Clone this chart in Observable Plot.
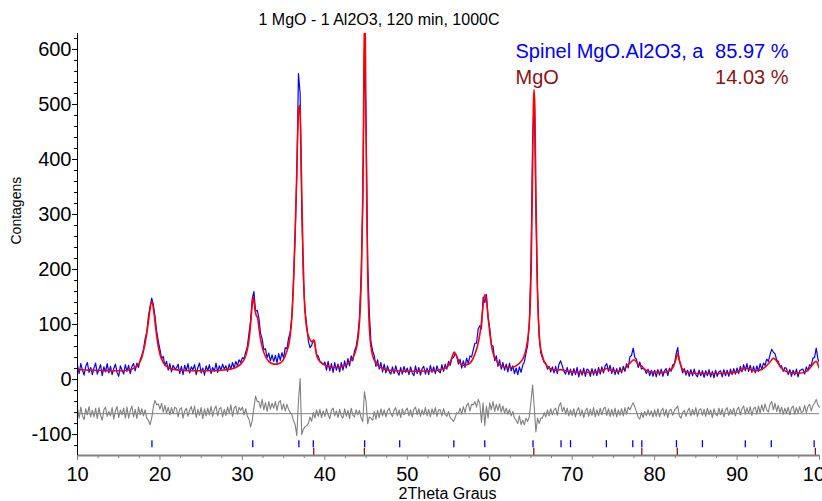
<!DOCTYPE html>
<html><head><meta charset="utf-8">
<script src="https://cdn.jsdelivr.net/npm/d3@7"></script>
<script src="https://cdn.jsdelivr.net/npm/@observablehq/plot@0.6"></script>
<style>html,body{margin:0;padding:0;background:#fff;} svg{display:block}</style>
</head><body><div id="chart"></div>
<script>
// scan grid (2theta start and step)
const xStart = 10, xStep = 0.2;
// observed counts, one value per 0.2 deg from 10 to 100
const observed = [
26,11,29,17,8,24,31,13,22,9,
21,30,10,19,27,7,23,14,29,12,
24,9,20,28,13,6,25,17,10,27,
15,26,11,24,29,16,30,22,36,44,
55,74,86,115,132,148,136,115,88,70,
55,38,42,26,33,17,29,14,26,20,
21,28,11,24,9,26,16,29,12,23,
18,27,9,22,30,12,21,8,25,16,
27,11,22,15,30,13,25,17,28,19,
25,15,28,19,31,21,33,25,36,31,
40,38,50,60,84,108,148,160,124,126,
112,84,74,54,56,40,48,34,45,33,
44,31,47,35,49,39,58,56,75,86,
115,180,260,370,556,520,310,180,125,100,
70,58,62,72,64,45,43,33,31,27,
32,17,33,16,29,13,31,17,28,14,
31,17,34,21,38,25,43,34,52,60,
80,112,190,320,600,470,210,120,68,52,
43,24,36,19,31,14,28,12,25,15,
10,23,11,25,14,8,22,10,24,13,
21,9,23,12,7,25,11,22,8,20,
24,10,21,9,26,13,23,11,25,16,
12,27,15,28,19,33,26,38,40,47,
43,28,37,21,34,22,39,29,43,41,
54,66,66,92,98,92,150,140,155,112,
94,63,61,35,43,24,36,19,31,17,
28,14,30,16,25,11,21,9,23,13,
26,32,48,62,102,212,432,520,307,157,
78,48,39,31,29,19,24,14,23,12,
24,11,28,34,25,15,10,22,9,19,
7,20,9,22,5,18,8,21,6,19,
17,6,20,8,19,7,22,10,23,12,
25,29,15,26,11,22,9,20,10,22,
12,24,15,29,21,41,44,57,40,37,
22,32,19,21,18,11,19,7,17,6,
17,5,18,8,19,6,16,20,7,21,
15,27,28,46,58,33,24,12,20,8,
17,6,18,7,19,9,5,17,7,16,
4,16,7,18,5,15,3,17,6,14,
16,5,18,7,17,6,19,9,20,10,
21,11,24,14,27,16,29,15,26,13,
24,12,25,15,29,18,30,26,37,33,
45,55,50,47,36,33,24,25,15,22,
20,9,18,6,17,8,19,5,16,18,
19,10,23,16,27,25,39,40,57,38,
30];
// difference curve (plotted values, same grid)
const difference = [
-52,-70,-50,-66,-73,-53,-64,-49,-68,-56,
-68,-52,-71,-51,-65,-74,-55,-50,-67,-58,
-66,-51,-72,-57,-49,-69,-55,-64,-52,-70,
-50,-70,-57,-48,-68,-54,-71,-50,-64,-53,
-66,-55,-70,-74,-82,-70,-50,-38,-46,-44,
-54,-43,-59,-47,-61,-50,-64,-51,-62,-50,
-53,-68,-54,-51,-70,-57,-52,-67,-56,-49,
-63,-48,-69,-54,-65,-51,-71,-53,-66,-52,
-64,-49,-67,-54,-48,-66,-53,-51,-68,-54,
-65,-50,-61,-46,-67,-52,-48,-63,-51,-56,
-50,-64,-53,-66,-72,-86,-74,-50,-30,-40,
-40,-52,-36,-55,-42,-58,-40,-54,-43,-52,
-40,-56,-42,-38,-55,-44,-57,-45,-54,-60,
-64,-74,-82,-102,-40,2,-100,-90,-86,-84,
-80,-68,-76,-60,-70,-55,-67,-54,-69,-57,
-67,-53,-64,-71,-56,-52,-66,-57,-69,-54,
-66,-70,-53,-67,-56,-71,-52,-65,-68,-55,
-64,-56,-70,-76,-22,-40,-80,-68,-70,-74,
-58,-72,-56,-69,-53,-66,-55,-68,-57,-52,
-62,-67,-56,-51,-66,-55,-69,-53,-64,-56,
-52,-66,-55,-68,-54,-50,-64,-53,-67,-55,
-64,-51,-66,-54,-68,-53,-63,-51,-67,-55,
-55,-66,-53,-63,-67,-58,-69,-72,-76,-70,
-60,-62,-52,-63,-49,-60,-47,-43,-57,-45,
-46,-40,-50,-36,-44,-78,-42,-84,-48,-70,
-42,-55,-40,-58,-45,-56,-44,-59,-48,-61,
-52,-63,-54,-66,-58,-70,-74,-80,-66,-82,
-74,-82,-70,-76,-68,-40,-10,-50,-95,-70,
-80,-70,-70,-60,-68,-55,-66,-53,-64,-55,
-52,-65,-48,-42,-58,-50,-63,-52,-66,-55,
-65,-53,-68,-56,-51,-66,-55,-69,-57,-52,
-67,-54,-65,-51,-68,-55,-66,-52,-64,-53,
-50,-65,-53,-67,-54,-66,-52,-68,-55,-65,
-53,-66,-51,-63,-50,-55,-48,-42,-50,-58,
-68,-72,-60,-69,-58,-66,-55,-65,-57,-68,
-55,-67,-53,-68,-57,-52,-66,-54,-69,-56,
-54,-65,-56,-52,-48,-66,-70,-60,-56,-67,
-57,-52,-66,-54,-64,-51,-67,-55,-53,-65,
-54,-67,-52,-64,-55,-69,-53,-63,-66,-52,
-64,-53,-68,-55,-51,-65,-54,-63,-52,-66,
-55,-50,-64,-53,-48,-63,-51,-62,-49,-65,
-53,-50,-63,-48,-61,-46,-58,-44,-55,-59,
-45,-40,-55,-43,-58,-47,-60,-50,-63,-52,
-62,-50,-64,-52,-48,-63,-51,-61,-49,-60,
-58,-47,-60,-49,-45,-57,-47,-43,-36,-46,
-50];
const diffBaseline = -62;
// calculated profile
const calcX = [10,11,12,13,14,15,16,16.6,17,17.5,17.8,18,18.2,18.4,18.6,18.8,18.95,19.05,19.2,19.4,19.6,19.8,20,20.3,20.6,21,21.5,22.5,24,26,27.5,28.5,29.2,29.8,30.2,30.5,30.7,30.9,31.05,31.2,31.3,31.4,31.55,31.7,31.85,32,32.2,32.5,32.8,33.2,33.6,34,34.4,34.8,35.1,35.4,35.6,35.8,36,36.2,36.4,36.55,36.7,36.85,36.95,37.05,37.2,37.35,37.5,37.7,37.9,38.1,38.3,38.5,38.65,38.75,38.9,39.1,39.4,39.8,40.4,41,41.6,42.2,42.8,43.2,43.6,43.9,44.1,44.3,44.45,44.6,44.7,44.8,44.9,45,45.1,45.2,45.35,45.5,45.7,46,46.3,46.8,47.5,48.5,50,51,52,53,54,54.6,55,55.3,55.55,55.7,55.85,56.1,56.4,56.8,57.2,57.6,57.9,58.2,58.5,58.8,59,59.2,59.4,59.55,59.7,59.9,60.1,60.3,60.6,61,61.5,62,62.6,63.2,63.7,64.1,64.4,64.7,64.9,65.05,65.2,65.3,65.38,65.48,65.6,65.75,65.9,66.1,66.4,66.8,67.3,68,68.6,69.2,70,71,72,73,73.7,74.2,74.7,75.3,75.9,76.5,77,77.5,77.8,78.1,78.4,78.7,79.2,80,81,81.8,82.3,82.6,82.8,83,83.3,83.7,84.5,86,87.5,89,90,90.6,91,91.5,92.2,92.9,93.5,94,94.4,94.8,95.3,95.9,96.8,97.7,98.4,98.9,99.3,99.6,99.9,100];
const calcY = [18,17.5,17,16.5,16,16,17,19,22,30,40,52,66,84,105,128,140,141,130,105,80,60,46,34,27,22,19,17,16,16,17,19,22,28,36,48,62,85,110,138,150,142,125,116,112,95,73,54,42,33,29,28,29,33,40,52,62,80,112,175,270,350,440,495,498,460,340,230,150,105,85,76,70,68,72,70,52,40,33,28,24,22,22,24,29,35,46,62,85,130,200,330,480,660,640,450,300,190,110,72,50,35,28,22,18,16,15,15,15.5,16,18,21,26,35,46,50,47,38,30,26,27,30,36,46,60,82,105,135,154,150,130,100,74,55,40,30,24,22,22,25,31,40,55,85,130,220,380,500,527,490,340,190,110,65,42,28,20,17,18,16,14,13,13,14,17,20,17,15,16,22,30,36,32,26,25,20,15,13,13,16,24,38,47,36,21,15,12,11,11,12,14,18,21,19,16,18,24,32,39,34,22,15,12,12,15,22,30,33,24,20];
// reflection positions
const spinelPeaks = [19.03,31.26,36.85,38.6,44.83,49.08,55.65,59.4,65.25,68.65,69.8,74.15,77.35,78.45,82.65,85.8,91.0,94.15,99.35];
const mgoPeaks = [38.65,44.8,65.35,78.45,82.75,99.5];
// tick labels and texts
const xTicks = [10,20,30,40,50,60,70,80,90,100];
const xMinor = [12.5,15,17.5,22.5,25,27.5,32.5,35,37.5,42.5,45,47.5,52.5,55,57.5,62.5,65,67.5,72.5,75,77.5,82.5,85,87.5,92.5,95,97.5];
const yTicks = [-100,0,100,200,300,400,500,600];
const yMinor = [-120,-80,-60,-40,-20,20,40,60,80,120,140,160,180,220,240,260,280,320,340,360,380,420,440,460,480,520,540,560,580,620];
const titleText = "1 MgO - 1 Al2O3, 120 min, 1000C";
const phaseNames = ["Spinel MgO.Al2O3, a", "MgO"];
const phasePercents = ["85.97 %", "14.03 %"];
const xLabel = "2Theta Graus";
const yLabel = "Contagens";

const scan = observed.map((v, i) => ({x: +(xStart + i * xStep).toFixed(1), obs: v, diff: difference[i]}));
const calc = calcX.map((x, i) => ({x, y: calcY[i]}));

const font = "'Liberation Sans', Arial, Helvetica, sans-serif";
const blue = "#0000ff", red = "#ff0000", gray = "#808080", dark = "#8c1414";

const chart = Plot.plot({
  width: 822, height: 501,
  marginLeft: 77, marginRight: 3, marginTop: 33, marginBottom: 46,
  style: {fontFamily: font, background: "white", color: "black"},
  x: {domain: [10, 100]},
  y: {domain: [-138, 629]},
  marks: [
    Plot.line(scan, {x: "x", y: "obs", stroke: blue, strokeWidth: 1.2, clip: true}),
    Plot.line(calc, {x: "x", y: "y", stroke: red, strokeWidth: 1.6, curve: "monotone-x", clip: true}),
    Plot.ruleY([diffBaseline], {stroke: gray, strokeWidth: 1}),
    Plot.line(scan, {x: "x", y: "diff", stroke: gray, strokeWidth: 1.1}),
    Plot.ruleX(spinelPeaks, {x: d => d, y1: -111, y2: -124, stroke: blue, strokeWidth: 1.3}),
    Plot.ruleX(mgoPeaks, {x: d => d, y1: -125, y2: -138, stroke: dark, strokeWidth: 1.3}),
    Plot.axisX({ticks: xMinor, tickSize: 3, tickFormat: () => "", label: null, stroke: gray}),
    Plot.axisX({ticks: xTicks, tickSize: 5, tickPadding: 6, fontSize: 20, label: null, tickFormat: d => String(d), stroke: gray}),
    Plot.axisY({ticks: yMinor, tickSize: 3, tickFormat: () => "", label: null}),
    Plot.axisY({ticks: yTicks, tickSize: 5, tickPadding: 1, fontSize: 20, label: null, tickFormat: d => d < 0 ? "-" + Math.abs(d) : String(d)}),
    Plot.ruleY([-138], {stroke: gray, strokeWidth: 2}),
    Plot.ruleX([10], {stroke: "black", strokeWidth: 1}),
    Plot.text([titleText], {frameAnchor: "top-left", lineAnchor: "middle", dx: 181, dy: -14, textAnchor: "start", fontSize: 16, fill: "black"}),
    Plot.text([phaseNames[0]], {frameAnchor: "top-left", lineAnchor: "middle", dx: 438, dy: 18, textAnchor: "start", fontSize: 20, fill: blue}),
    Plot.text([phasePercents[0]], {frameAnchor: "top-right", lineAnchor: "middle", dx: -31, dy: 18, textAnchor: "end", fontSize: 20, fill: blue}),
    Plot.text([phaseNames[1]], {frameAnchor: "top-left", lineAnchor: "middle", dx: 438, dy: 44, textAnchor: "start", fontSize: 20, fill: dark}),
    Plot.text([phasePercents[1]], {frameAnchor: "top-right", lineAnchor: "middle", dx: -31, dy: 44, textAnchor: "end", fontSize: 20, fill: dark}),
    Plot.text([xLabel], {frameAnchor: "bottom", lineAnchor: "middle", dx: -1, dy: 38, fontSize: 16, fill: "black"}),
    Plot.text([yLabel], {frameAnchor: "left", lineAnchor: "middle", dx: -61, rotate: -90, fontSize: 14, fill: "black"})
  ]
});
document.getElementById("chart").appendChild(chart);
</script>
</body></html>
